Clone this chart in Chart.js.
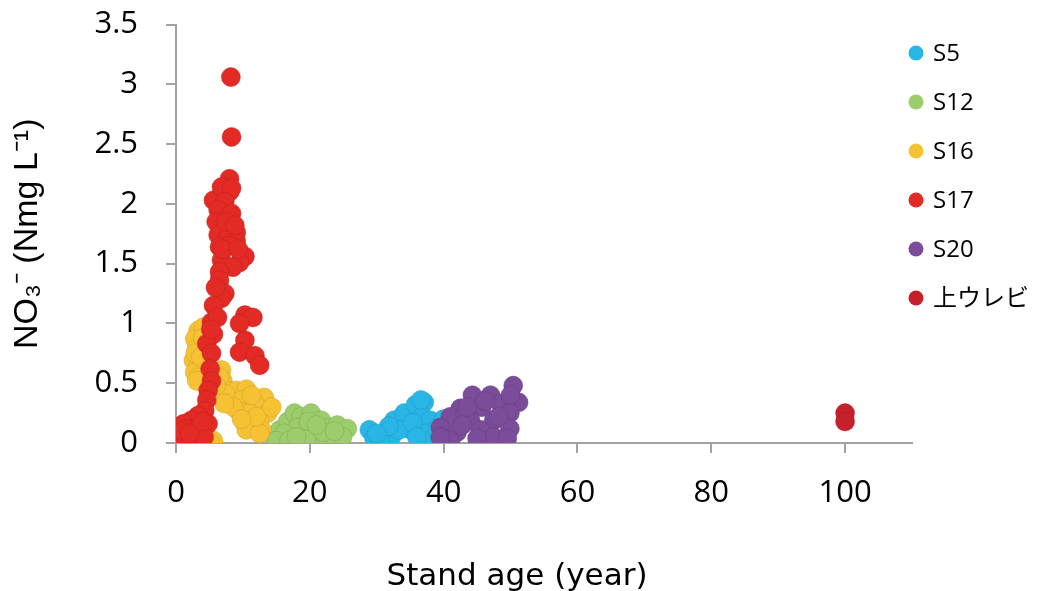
<!DOCTYPE html>
<html>
<head>
<meta charset="utf-8">
<script src="https://cdn.jsdelivr.net/npm/chart.js@4/dist/chart.umd.min.js"></script>
<style>
  html, body { margin: 0; padding: 0; background: #fff; }
  #wrap { width: 1038px; height: 591px; position: relative; }
</style>
</head>
<body>
<div id="wrap"><canvas id="no3Chart"></canvas></div>
<script>
// NO3- concentration vs stand age, one series per site
const seriesNames = ['S5', 'S12', 'S16', 'S17', 'S20', '上ウレビ'];
const seriesColors = ['#29b6e6', '#9ccc6c', '#f6c233', '#e32a24', '#7a4c9a', '#c6202b'];

const s5Age = [28.9, 29.6, 31.1, 32.6, 32.3, 34.1, 34.6, 35.8, 37.1, 36.8, 38.0, 37.3, 38.5, 40.0, 39.0, 33.3, 36.6, 30.5,
               31.8, 35.4, 39.5, 30.0, 36.0];
const s5No3 = [0.11, 0.04, 0.08, 0.19, 0.06, 0.25, 0.12, 0.32, 0.34, 0.22, 0.19, 0.08, 0.04, 0.20, 0.12, 0.11, 0.36, 0.02,
               0.14, 0.17, 0.03, 0.08, 0.05];

const s12Age = [14.7, 15.5, 16.7, 17.7, 18.7, 20.2, 19.2, 17.2, 21.7, 22.7, 24.1, 25.6, 23.2, 21.2, 18.2, 16.2, 20.7, 24.9, 15.0, 19.8, 22.0,
                16.9, 19.5, 23.7, 21.0, 18.0];
const s12No3 = [0.04, 0.11, 0.18, 0.25, 0.22, 0.25, 0.08, 0.05, 0.19, 0.13, 0.15, 0.12, 0.05, 0.04, 0.13, 0.08, 0.12, 0.05, 0.02, 0.18, 0.09,
                0.02, 0.03, 0.10, 0.15, 0.05];

const s16Age = [3.3, 2.8, 3.1, 2.6, 3.3, 2.8, 3.3, 6.8, 7.0, 7.8, 9.0, 10.5, 13.2, 8.0, 9.8, 11.8, 9.3, 11.0, 13.7, 10.3, 12.5, 10.5, 12.8, 5.6, 14.3, 4.1, 6.5, 7.4, 12.5, 5.1, 3.1, 2.9,
                4.0, 3.7, 6.0, 8.6, 11.3, 12.0, 9.8, 7.2];
const s16No3 = [0.94, 0.87, 0.79, 0.69, 0.65, 0.59, 0.55, 0.61, 0.52, 0.44, 0.44, 0.45, 0.38, 0.36, 0.36, 0.33, 0.27, 0.25, 0.25, 0.16, 0.18, 0.11, 0.11, 0.02, 0.30, 0.97, 0.55, 0.41, 0.08, 0.0, 0.52, 0.75,
                0.88, 0.72, 0.48, 0.30, 0.40, 0.22, 0.20, 0.33];

const s17Age = [8.2, 8.3, 8.0, 7.0, 8.0, 5.6, 6.8, 8.3, 7.3, 6.3, 8.3, 6.0, 9.0, 6.3, 7.8, 9.0, 6.5, 8.0, 10.3, 9.5,
                6.8, 8.5, 6.5, 6.5, 7.3, 6.8, 5.6, 10.3, 11.5, 5.3, 9.5, 5.6, 10.3, 4.6, 9.5, 5.3, 11.8, 12.5, 5.1, 5.3,
                4.8, 4.6, 4.3, 3.3, 2.3, 1.1, 1.3, 2.8, 3.8, 4.8, 1.8, 0.6, 3.3, 1.5, 2.5, 0.9, 3.5, 4.2,
                7.5, 8.8, 7.0, 9.3, 5.9, 6.2, 5.2, 2.0, 4.0];
const s17No3 = [3.06, 2.56, 2.21, 2.14, 2.10, 2.03, 2.14, 2.13, 2.02, 1.95, 1.92, 1.85, 1.76, 1.74, 1.72, 1.69, 1.64, 1.65, 1.56, 1.51,
                1.53, 1.47, 1.43, 1.36, 1.25, 1.21, 1.15, 1.07, 1.05, 1.01, 1.00, 0.91, 0.86, 0.83, 0.76, 0.75, 0.73, 0.65, 0.62, 0.52,
                0.44, 0.36, 0.27, 0.23, 0.19, 0.16, 0.08, 0.08, 0.09, 0.16, 0.04, 0.05, 0.04, 0.12, 0.02, 0.10, 0.13, 0.05,
                1.85, 1.82, 1.62, 1.62, 1.30, 1.05, 0.95, 0.08, 0.18];

const s20Age = [50.4, 47.0, 51.2, 44.3, 48.5, 42.5, 45.7, 49.9, 41.0, 44.0, 47.5, 39.5, 42.0, 45.5, 49.9, 41.0, 47.5, 49.5, 39.5, 46.2, 43.2,
                43.5, 48.2, 50.0, 45.0, 42.8];
const s20No3 = [0.48, 0.40, 0.34, 0.40, 0.33, 0.29, 0.30, 0.25, 0.22, 0.19, 0.19, 0.13, 0.09, 0.11, 0.12, 0.02, 0.05, 0.04, 0.05, 0.35, 0.24,
                0.30, 0.22, 0.40, 0.04, 0.15];

const kamiAge = [100, 100];
const kamiNo3 = [0.25, 0.18];

const xTicks = [0, 20, 40, 60, 80, 100];
const yTicks = [0, 0.5, 1, 1.5, 2, 2.5, 3, 3.5];

const ages = [s5Age, s12Age, s16Age, s17Age, s20Age, kamiAge];
const values = [s5No3, s12No3, s16No3, s17No3, s20No3, kamiNo3];

const axisGray = '#a3a3a3';
const tickFont = { family: '"Open Sans", sans-serif', size: 31 };

function shade(hex, f) {
  const n = parseInt(hex.slice(1), 16);
  const r = Math.round(((n >> 16) & 255) * f), g = Math.round(((n >> 8) & 255) * f), b = Math.round((n & 255) * f);
  return `rgba(${r},${g},${b},0.55)`;
}

// later series sit on top, so lower `order` for higher index
const datasets = seriesNames.map((name, i) => ({
  label: name,
  data: ages[i].map((a, j) => ({ x: a, y: values[i][j] })),
  backgroundColor: seriesColors[i],
  borderColor: shade(seriesColors[i], 0.8),
  borderWidth: 0.8,
  pointRadius: 9.5,
  pointHoverRadius: 9.5,
  order: seriesNames.length - i
}));

// legend on the right plus the x-axis caption under the whole figure
const sideLegend = {
  id: 'sideLegend',
  afterDraw(chart) {
    const ctx = chart.ctx;
    ctx.save();
    chart.data.datasets.forEach((ds, i) => {
      const y = 53 + i * 49;
      ctx.beginPath();
      ctx.arc(916, y, 7.5, 0, Math.PI * 2);
      ctx.fillStyle = seriesColors[i];
      ctx.fill();
      ctx.fillStyle = '#000';
      ctx.font = '24px "Open Sans", "Noto Sans CJK JP", sans-serif';
      ctx.textBaseline = 'middle';
      ctx.textAlign = 'left';
      ctx.fillText(ds.label, 933, y + 1);
    });
    ctx.font = '31px "DejaVu Sans", sans-serif';
    ctx.textAlign = 'center';
    ctx.textBaseline = 'middle';
    ctx.fillText('Stand age (year)', 517, 577);
    ctx.restore();
  }
};

new Chart(document.getElementById('no3Chart'), {
  type: 'scatter',
  data: { datasets },
  options: {
    responsive: true,
    maintainAspectRatio: false,
    animation: false,
    layout: { padding: { top: 24.5, right: 126, left: 0, bottom: 0 } },
    plugins: {
      legend: { display: false },
      tooltip: { enabled: false }
    },
    scales: {
      x: {
        type: 'linear',
        min: 0,
        max: 110,
        afterBuildTicks: axis => { axis.ticks = xTicks.map(v => ({ value: v })); },
        afterFit: axis => { axis.height = 148; },
        ticks: { font: tickFont, color: '#000', padding: 22, maxRotation: 0 },
        grid: { display: true, drawOnChartArea: false, drawTicks: true, tickLength: 10, color: axisGray, lineWidth: 2 },
        border: { display: true, color: axisGray, width: 2 }
      },
      y: {
        min: 0,
        max: 3.5,
        afterBuildTicks: axis => { axis.ticks = yTicks.map(v => ({ value: v })); },
        afterFit: axis => { axis.width = 176; axis.paddingTop = 0; axis.paddingBottom = 0; },
        ticks: { font: tickFont, color: '#000', padding: 28, callback: v => String(v) },
        grid: { display: true, drawOnChartArea: false, drawTicks: true, tickLength: 10, color: axisGray, lineWidth: 2 },
        border: { display: true, color: axisGray, width: 2 },
        title: {
          display: true,
          text: 'NO₃⁻ (Nmg L⁻¹)',
          color: '#000',
          font: { family: '"Liberation Sans", Arial, sans-serif', size: 34, lineHeight: 1 },
          padding: { top: 11 }
        }
      }
    }
  },
  plugins: [sideLegend]
});
</script>
</body>
</html>
